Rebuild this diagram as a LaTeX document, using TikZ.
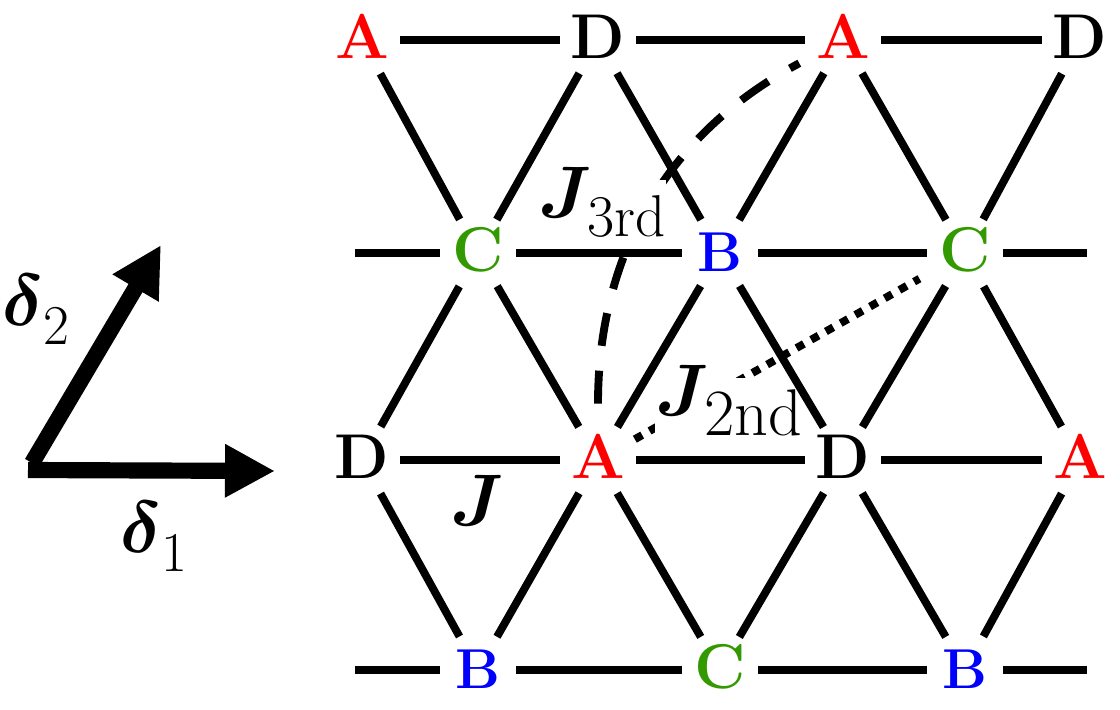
\documentclass[tikz,border=0pt]{standalone}
\usepackage{fix-cm}
\usepackage{amsmath,bm}
\usetikzlibrary{arrows.meta,calc}
\definecolor{siteg}{rgb}{0.2,0.6,0}
\newcommand{\lowsub}[2]{\kern2pt\lower 6pt\hbox{\fontsize{#1}{#1}\selectfont #2}}
\tikzset{
  site/.style={circle,inner sep=0pt,minimum size=1.9cm,text height=25.6pt,text depth=0pt,font=\fontsize{45}{45}\bfseries\selectfont},
  siteb/.style={site,blue,font=\fontsize{40}{40}\bfseries\selectfont},
  bond/.style={line width=5.6pt},
  lab/.style={inner sep=0pt,anchor=base west,font=\fontsize{52}{52}\selectfont},
  cutlab/.style={lab,fill=white,text height=26pt,text depth=18pt},
  vec/.style={line width=11.5pt,-{Triangle[length=1.25cm,width=1.25cm]}}
}
\begin{document}
\begin{tikzpicture}[x=0.025cm,y=-0.025cm]
  \useasboundingbox (0,0) rectangle (1120,710);
  % sites
  \node[site,red] (A1) at (362,40) {A};
  \node[site] (D1) at (598,40) {D};
  \node[site,red] (A2) at (843,40) {A};
  \node[site] (D2) at (1080,40) {D};
  \node[site,siteg] (C1) at (478,253) {C};
  \node[siteb] (B1) at (720,253) {B};
  \node[site,siteg] (C2) at (965,253) {C};
  \node[site] (D3) at (362,460) {D};
  \node[site,red] (A3) at (598,460) {A};
  \node[site] (D4) at (843,460) {D};
  \node[site,red] (A4) at (1080,460) {A};
  \node[siteb] (B2) at (478,670) {B};
  \node[site,siteg] (C3) at (720,670) {C};
  \node[siteb] (B3) at (965,670) {B};
  \coordinate (L1) at (355,253);
  \coordinate (R1) at (1087,253);
  \coordinate (L2) at (355,670);
  \coordinate (R2) at (1087,670);
  % further couplings, labels cut them
  \draw[bond,dash pattern=on 23.5pt off 17.8pt,shorten <=0.45cm,shorten >=0.28cm] (A3) to[out=90,in=208] (A2);
  \draw[bond,dash pattern=on 6pt off 6pt,shorten <=0.1cm,shorten >=0.35cm] (A3) -- (C2);
  \node[cutlab] (J3) at (538,217) {$\bm{J}_{\lowsub{42}{3rd}}$};
  \node[cutlab] (J2) at (655,415) {$\bm{J}_{\lowsub{47}{2nd}}$};
  \node[lab] (J1) at (450,525) {$\bm{J}$};
  % bonds
  \foreach \a/\b in {A1/D1,D1/A2,A2/D2,L1/C1,C1/B1,B1/C2,C2/R1,D3/A3,A3/D4,D4/A4,L2/B2,B2/C3,C3/B3,B3/R2,
    A1/C1,D1/C1,D1/B1,A2/B1,A2/C2,D2/C2,C1/D3,C1/A3,B1/A3,B1/D4,C2/D4,C2/A4,D3/B2,A3/B2,A3/C3,D4/C3,D4/B3,A4/B3}
    \draw[bond] (\a) -- (\b);
  % basis vectors
  \coordinate (O1) at (28,470);
  \coordinate (O2) at (32,463);
  \coordinate (E1) at (275,471);
  \coordinate (E2) at (161,245);
  \draw[vec] (O1) -- (E1);
  \draw[vec] (O2) -- (E2);
  \node[lab] (d1) at (120,552) {$\bm{\delta}_{\lowsub{40}{1}}$};
  \node[lab] (d2) at (2,325) {$\bm{\delta}_{\lowsub{40}{2}}$};
\end{tikzpicture}
\end{document}
